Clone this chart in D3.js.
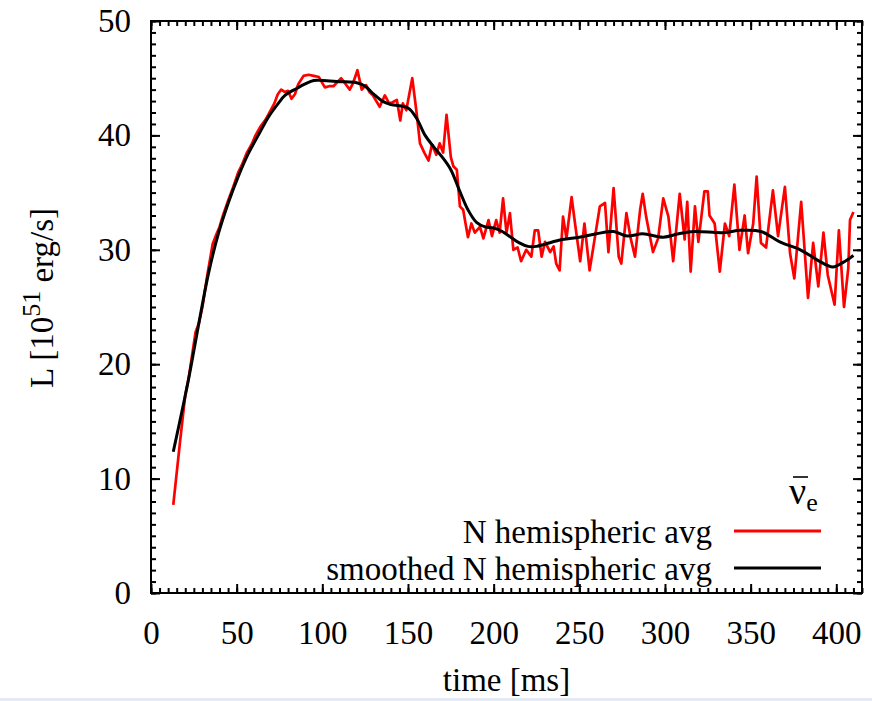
<!DOCTYPE html>
<html>
<head>
<meta charset="utf-8">
<script src="https://cdn.jsdelivr.net/npm/d3@7"></script>
<style>
  body { margin: 0; background: #fff; }
  svg { display: block; }
  text { font-family: "Liberation Serif", "Times New Roman", serif; fill: #000; }
</style>
</head>
<body>
<svg id="chart" width="872" height="701"></svg>
<script>
// N hemispheric average (raw)
const rawTime = [13, 17, 20, 22, 24.5, 26, 28, 30, 33, 36, 38, 40, 42, 45, 48, 51, 53, 56, 59, 61,
  64, 67, 69.5, 72, 74, 76, 78, 80, 82, 84, 86, 89, 92, 95, 98, 101.5, 104, 106.5, 109, 111,
  113, 116, 118, 120.5, 123, 125.5, 127.5, 129.5, 131.5, 133.5, 136.5, 139, 141, 143.5, 145.5, 147, 149, 152.5, 155, 157,
  159.5, 162, 164, 166.5, 168.5, 170.5, 172.5, 175, 176.5, 178.5, 180.3, 182.2, 185, 187, 189, 192, 194, 197, 199, 201.5,
  203.5, 205.5, 207.5, 209.5, 211.5, 214, 216, 219, 222, 224, 226, 228, 230, 233, 235, 236.5, 238.5, 240.5, 242.5, 245.5,
  247.5, 250.5, 253, 256, 259, 262, 265, 267, 270, 273, 274.5, 277.5, 280, 282.5, 285.5, 287, 289, 293, 296, 299,
  302, 304.8, 308.6, 311.5, 313, 315, 317.5, 319.5, 323, 325, 326, 329, 332, 335, 337.5, 340.5, 343.5, 346.5, 348.5, 351.5,
  353.5, 356, 359, 363, 366, 370, 373, 375.5, 379.5, 383.5, 386.5, 389.5, 392.5, 395, 399, 401.5, 404.5, 407, 408, 410];
const rawLum = [7.7, 13.3, 17.3, 18.8, 21.3, 22.8, 23.6, 25.0, 27.9, 30.5, 31.3, 32.0, 33.0, 34.3, 35.5, 36.8, 37.4, 38.5, 39.3, 40.0,
  40.8, 41.4, 42.1, 42.8, 43.6, 44.0, 43.8, 43.9, 43.2, 43.6, 44.5, 45.2, 45.3, 45.2, 45.1, 44.2, 44.3, 44.3, 44.7, 45.0,
  44.6, 44.0, 44.6, 45.7, 44.0, 44.4, 43.8, 43.5, 43.0, 42.5, 43.5, 42.8, 42.9, 43.1, 41.3, 42.8, 42.2, 45.0, 42.0, 39.3,
  38.5, 37.8, 39.2, 38.3, 39.3, 38.5, 41.8, 38.1, 37.3, 37.0, 33.8, 33.5, 31.1, 32.3, 31.5, 32.0, 31.0, 32.6, 31.2, 32.6,
  31.5, 34.5, 31.5, 33.2, 30.0, 30.2, 29.0, 30.0, 29.4, 31.7, 31.7, 29.4, 30.7, 29.8, 30.3, 28.8, 28.2, 32.9, 31.0, 34.6,
  32.3, 29.0, 32.3, 28.2, 31.0, 33.8, 34.1, 29.8, 35.4, 29.4, 28.8, 33.2, 31.0, 29.4, 33.5, 34.9, 32.9, 29.8, 31.0, 34.5,
  32.9, 29.0, 34.9, 30.9, 34.2, 28.1, 33.8, 30.7, 35.1, 35.1, 33.0, 32.3, 28.1, 32.3, 31.2, 35.7, 30.0, 33.0, 29.7, 32.3,
  36.4, 30.6, 30.2, 35.2, 31.2, 35.5, 29.7, 27.5, 34.2, 25.8, 30.6, 26.8, 31.5, 27.8, 25.2, 31.7, 25.0, 28.4, 32.6, 33.3];

// smoothed N hemispheric average
const smoothTime = [13, 21.8, 27.6, 33.5, 39.3, 45.1, 50.9, 56.8, 62.6, 68.5, 74.3, 78.2, 85, 90, 95, 100, 110, 120, 125, 130,
  135, 140, 150, 155, 160, 165, 170, 175, 180, 185, 190, 195, 200, 205, 210, 215, 220, 225, 230, 240,
  250, 260, 270, 278, 287, 299, 308, 317, 334, 344, 356, 367, 379, 389, 398, 404, 410];
const smoothLum = [12.35, 18.6, 23.3, 27.9, 31.4, 34.1, 36.4, 38.4, 40.0, 41.6, 42.8, 43.5, 44.1, 44.5, 44.8, 44.8, 44.7, 44.6, 44.3, 43.6,
  43.0, 42.7, 42.4, 41.5, 40.0, 39.0, 38.1, 37.0, 35.2, 33.5, 32.4, 32.0, 31.9, 31.6, 31.1, 30.6, 30.3, 30.3, 30.5, 30.9,
  31.1, 31.4, 31.6, 31.2, 31.4, 31.1, 31.4, 31.6, 31.5, 31.7, 31.6, 30.7, 30.0, 29.1, 28.5, 28.9, 29.5];

const xTicks = [0, 50, 100, 150, 200, 250, 300, 350, 400];
const yTicks = [0, 10, 20, 30, 40, 50];
const legendLabels = ['N hemispheric avg', 'smoothed N hemispheric avg'];
const legendColors = ['#ff0000', '#000000'];

const svg = d3.select('#chart');
const plotLeft = 151, plotRight = 862, plotTop = 21, plotBottom = 593;
const fontSize = 33;

const x = d3.scaleLinear().domain([0, 415]).range([plotLeft, plotRight]);
const y = d3.scaleLinear().domain([0, 50]).range([plotBottom, plotTop]);

svg.append('rect').attr('width', 872).attr('height', 701).attr('fill', '#fff');
svg.append('rect').attr('x', 0).attr('y', 698).attr('width', 872).attr('height', 3).attr('fill', '#e3eaf5');

const xMinor = d3.range(0, 416, 5);
const yMinor = d3.range(0, 51, 1);

// major + minor ticks on all four sides, pointing inward
function addAxis(axis, tx, ty) {
  const g = svg.append('g').attr('transform', 'translate(' + tx + ',' + ty + ')').call(axis);
  g.select('.domain').remove();
  g.selectAll('line').attr('stroke', '#000').attr('stroke-width', 2);
  g.attr('font-family', null).attr('font-size', fontSize);
  return g;
}

addAxis(d3.axisBottom(x).tickValues(xMinor).tickSize(-5).tickFormat(''), 0, plotBottom);
addAxis(d3.axisTop(x).tickValues(xMinor).tickSize(-5).tickFormat(''), 0, plotTop);
addAxis(d3.axisLeft(y).tickValues(yMinor).tickSize(-5).tickFormat(''), plotLeft, 0);
addAxis(d3.axisRight(y).tickValues(yMinor).tickSize(-5).tickFormat(''), plotRight, 0);

addAxis(d3.axisBottom(x).tickValues(xTicks).tickSize(-9).tickPadding(28), 0, plotBottom);
addAxis(d3.axisTop(x).tickValues(xTicks).tickSize(-9).tickFormat(''), 0, plotTop);
addAxis(d3.axisLeft(y).tickValues(yTicks).tickSize(-9).tickPadding(20), plotLeft, 0);
addAxis(d3.axisRight(y).tickValues(yTicks).tickSize(-9).tickFormat(''), plotRight, 0);

svg.append('defs').append('clipPath').attr('id', 'clip')
  .append('rect').attr('x', plotLeft).attr('y', plotTop)
  .attr('width', plotRight - plotLeft).attr('height', plotBottom - plotTop);

const rawData = rawTime.map((t, i) => [t, rawLum[i]]);
const smoothData = smoothTime.map((t, i) => [t, smoothLum[i]]);

svg.append('path')
  .datum(rawData)
  .attr('clip-path', 'url(#clip)')
  .attr('fill', 'none')
  .attr('stroke', '#ff0000')
  .attr('stroke-width', 2.7)
  .attr('stroke-linejoin', 'round')
  .attr('d', d3.line().x(d => x(d[0])).y(d => y(d[1])));

svg.append('path')
  .datum(smoothData)
  .attr('clip-path', 'url(#clip)')
  .attr('fill', 'none')
  .attr('stroke', '#000')
  .attr('stroke-width', 3)
  .attr('d', d3.line().x(d => x(d[0])).y(d => y(d[1])).curve(d3.curveCatmullRom));

// frame
svg.append('rect')
  .attr('x', plotLeft).attr('y', plotTop)
  .attr('width', plotRight - plotLeft).attr('height', plotBottom - plotTop)
  .attr('fill', 'none').attr('stroke', '#000').attr('stroke-width', 2);

// legend: anti electron neutrino symbol
const nu = svg.append('text')
  .attr('x', 789).attr('y', 504)
  .attr('font-size', 38);
nu.append('tspan').text('\u03bd');
nu.append('tspan').attr('font-size', 26).attr('dy', 7).text('e');
svg.append('line')
  .attr('x1', 793).attr('x2', 808)
  .attr('y1', 477).attr('y2', 477)
  .attr('stroke', '#000').attr('stroke-width', 1.6);

legendLabels.forEach((lab, i) => {
  const ly = 531 + i * 37;
  svg.append('text')
    .attr('x', 712).attr('y', ly)
    .attr('dy', '0.35em')
    .attr('text-anchor', 'end')
    .attr('font-size', fontSize)
    .text(lab);
  svg.append('line')
    .attr('x1', 734).attr('x2', 821)
    .attr('y1', ly).attr('y2', ly)
    .attr('stroke', legendColors[i])
    .attr('stroke-width', 3);
});

// axis titles
svg.append('text')
  .attr('x', (plotLeft + plotRight) / 2).attr('y', 691)
  .attr('text-anchor', 'middle')
  .attr('font-size', fontSize)
  .text('time [ms]');

const yl = svg.append('text')
  .attr('transform', 'translate(53,298) rotate(-90)')
  .attr('text-anchor', 'middle')
  .attr('font-size', fontSize);
yl.append('tspan').text('L [10');
yl.append('tspan').attr('font-size', 26).attr('dy', -13).text('51');
yl.append('tspan').attr('dy', 13).text(' erg/s]');
</script>
</body>
</html>
